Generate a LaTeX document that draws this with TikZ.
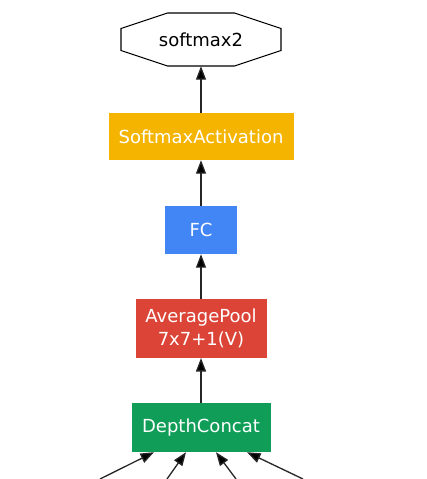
\documentclass[tikz,border=0pt]{standalone}
\usepackage{fontspec}
\setmainfont{DejaVu Sans}
\usetikzlibrary{arrows.meta,calc}
\definecolor{gyellow}{HTML}{F4B400}
\definecolor{gblue}{HTML}{4285F4}
\definecolor{gred}{HTML}{DB4437}
\definecolor{ggreen}{HTML}{0F9D58}
\begin{document}
\begin{tikzpicture}[x=1pt,y=1pt,
  lay/.style={rectangle, inner sep=0pt, text=white, align=center,
    font=\fontsize{18}{23.5}\selectfont},
  arr/.style={draw=black!85, line width=1.3pt,
    -{Triangle[length=13.5pt,width=10pt,fill=black]}}]
\fill[white] (0,0) rectangle (427,-479);
\useasboundingbox (0,0) rectangle (427,-479);

\node[lay, text=black, minimum width=160, minimum height=53] (s) at (201,-39.5) {softmax2};
\draw[black, line width=1.1pt]
  ([shift={(-80,11)}]s.center) -- ([shift={(-80,-11)}]s.center)
  -- ([shift={(-33.5,-26.5)}]s.center) -- ([shift={(33.5,-26.5)}]s.center)
  -- ([shift={(80,-11)}]s.center) -- ([shift={(80,11)}]s.center)
  -- ([shift={(33.5,26.5)}]s.center) -- ([shift={(-33.5,26.5)}]s.center) -- cycle;

\node[lay, fill=gyellow, minimum width=185, minimum height=47] (sa) at (201,-136.5) {SoftmaxActivation};
\node[lay, fill=gblue, minimum width=72, minimum height=48] (fc) at (201,-230) {FC};
\node[lay, fill=gred, minimum width=131, minimum height=59] (ap) at (201,-328.3) {AveragePool\\7x7+1(V)};
\node[lay, fill=ggreen, minimum width=139, minimum height=49] (dc) at (201,-427.5) {DepthConcat};

\draw[arr] (sa) -- (s);
\draw[arr] (fc) -- (sa);
\draw[arr] (ap) -- (fc);
\draw[arr] (dc) -- (ap);

\coordinate (b1) at (100,-479);
\coordinate (b2) at (167,-479);
\coordinate (b3) at (236,-479);
\coordinate (b4) at (303,-479);
\draw[arr] (b1) -- ([xshift=-47pt]dc.south);
\draw[arr] (b2) -- ([xshift=-15pt]dc.south);
\draw[arr] (b3) -- ([xshift=15pt]dc.south);
\draw[arr] (b4) -- ([xshift=46pt]dc.south);
\end{tikzpicture}
\end{document}
